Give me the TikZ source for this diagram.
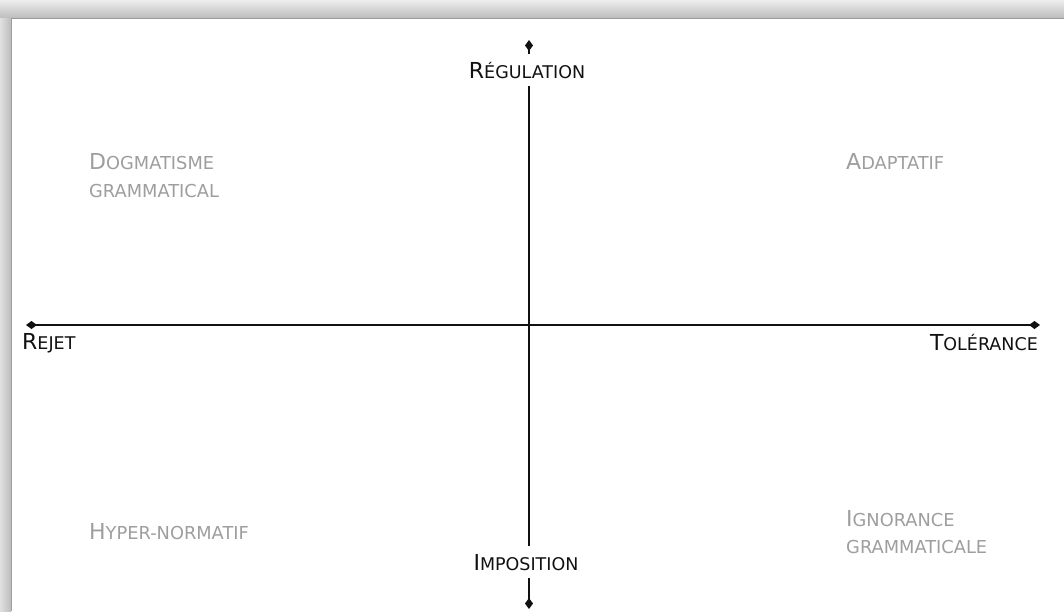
\documentclass[tikz,border=0pt]{standalone}
\usepackage{fontspec}
\setmainfont{DejaVu Sans}
\usetikzlibrary{arrows.meta}
\definecolor{quad}{HTML}{9E9E9E}
\definecolor{axiscol}{HTML}{111111}
\newcommand\bigc[1]{{\fontsize{22}{22}\selectfont #1}}
\newcommand\smc[1]{{\fontsize{17.5}{17.5}\selectfont #1}}
\newcommand\qbigc[1]{{\fontsize{22}{22}\selectfont #1}}
\newcommand\qsmc[1]{{\fontsize{17.8}{17.8}\selectfont #1}}
\tikzset{
  axisline/.style={line width=2pt, draw=axiscol,
    {Diamond[length=11pt,width=8pt]}-{Diamond[length=11pt,width=8pt]}},
  axislabel/.style={text=axiscol, inner sep=0pt},
  vlabel/.style={text=axiscol, fill=white, inner xsep=2pt, inner ysep=8pt},
  quadlabel/.style={text=quad, inner sep=0pt, anchor=base west},
}
\begin{document}
\begin{tikzpicture}[x=1pt,y=-1pt]
\useasboundingbox (0,0) rectangle (1064,611);
\fill[white] (0,0) rectangle (1064,611);
% frame shadow
\shade[top color=white!93!black, bottom color=white!74!black] (0,0) rectangle (1064,18);
\fill[white!60!black] (11,18) rectangle (1064,19);
\shade[left color=white!88!black, right color=white!74!black] (0,18) rectangle (11,611);
\fill[white!62!black] (11,18) rectangle (12,611);
% axes
\coordinate (L) at (26,325);
\coordinate (R) at (1040,325);
\coordinate (T) at (529,40);
\coordinate (B) at (529,609);
\draw[axisline] (L) -- (R);
\draw[axisline] (T) -- (B);
% axis labels
\node[vlabel, anchor=base] (reg) at (527,78) {\bigc{R}\smc{ÉGULATION}};
\node[vlabel, anchor=base] (imp) at (526,570) {\bigc{I}\smc{MPOSITION}};
\node[axislabel, anchor=base west] (rej) at (22,349) {\bigc{R}\smc{EJET}};
\node[axislabel, anchor=base east] (tol) at (1038,350) {\bigc{T}\smc{OLÉRANCE}};
% quadrant labels
\node[quadlabel] (dog1) at (89,169) {\qbigc{D}\qsmc{OGMATISME}};
\node[quadlabel] (dog2) at (89,197) {\qsmc{GRAMMATICAL}};
\node[quadlabel] (ada) at (846,169) {\qbigc{A}\qsmc{DAPTATIF}};
\node[quadlabel] (hyp) at (89,539) {\qbigc{H}\qsmc{YPER-NORMATIF}};
\node[quadlabel] (ign1) at (846,526) {\qbigc{I}\qsmc{GNORANCE}};
\node[quadlabel] (ign2) at (846,553) {\qsmc{GRAMMATICALE}};
\end{tikzpicture}
\end{document}
